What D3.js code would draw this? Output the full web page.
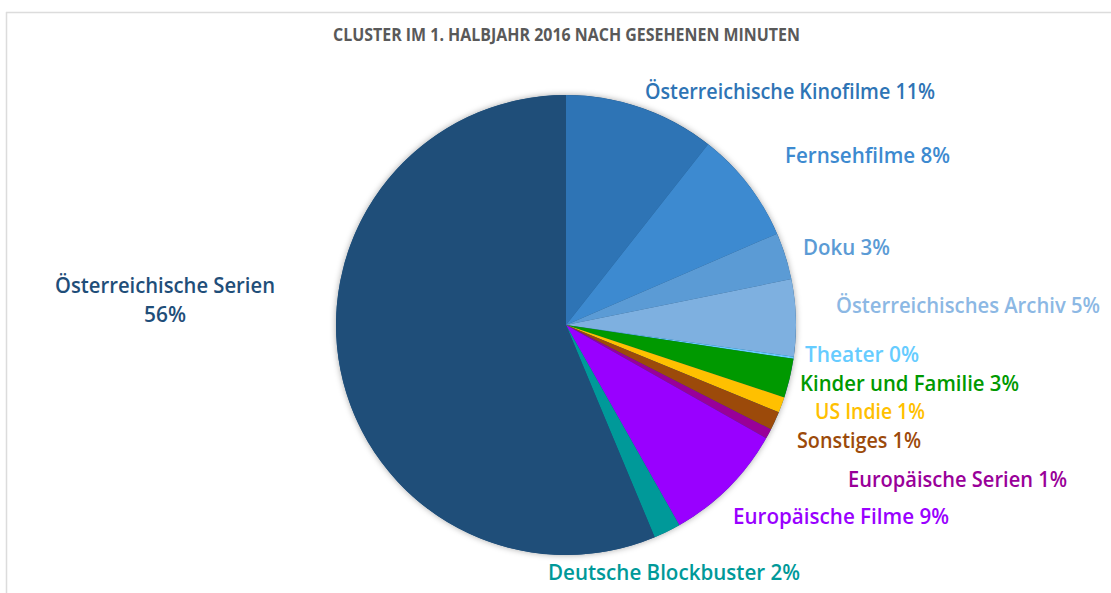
<!DOCTYPE html>
<html>
<head>
<meta charset="utf-8">
<script src="https://cdn.jsdelivr.net/npm/d3@7"></script>
<style>
  body { margin: 0; background: #fff; }
  text { font-family: "Open Sans", sans-serif; }
</style>
</head>
<body>
<div id="chart"></div>
<script>
// Werte (Anteil in %), im Uhrzeigersinn ab 12 Uhr
var categories = ["Österreichische Kinofilme", "Fernsehfilme", "Doku", "Österreichisches Archiv",
    "Theater", "Kinder und Familie", "US Indie", "Sonstiges", "Europäische Serien",
    "Europäische Filme", "Deutsche Blockbuster", "Österreichische Serien"];
var values = [10.6, 7.9, 3.3, 5.4, 0.15, 2.75, 1.1, 1.3, 0.7, 8.6, 1.9, 56.3];
var pctLabels = ["11%", "8%", "3%", "5%", "0%", "3%", "1%", "1%", "1%", "9%", "2%", "56%"];
var colors = ["#2e74b5", "#3d8ad0", "#5b9bd5", "#7eb0e0", "#66ccff", "#009900", "#ffc000",
    "#9c4a0a", "#990099", "#9900ff", "#009999", "#1f4e79"];
var labelColors = ["#2e74b5", "#3d8ad0", "#5b9bd5", "#8cb8e4", "#66ccff", "#009900", "#ffc000",
    "#9c4a0a", "#990099", "#9900ff", "#009999", "#1f4e79"];
var title = "CLUSTER IM 1. HALBJAHR 2016 NACH GESEHENEN MINUTEN";

// Label-Platzierung (links, Grundlinie, Breite) wie im Original
var labelPos = [
    { x: 645, y: 99, w: 290 },
    { x: 785, y: 163, w: 165 },
    { x: 803, y: 255, w: 87 },
    { x: 836, y: 313, w: 264 },
    { x: 805, y: 362, w: 114 },
    { x: 800, y: 391, w: 219 },
    { x: 815, y: 419, w: 110 },
    { x: 797, y: 448, w: 124 },
    { x: 848, y: 487, w: 219 },
    { x: 733, y: 524, w: 216 },
    { x: 548, y: 580, w: 252 },
    { x: 55, y: 293, w: 220 }
];

var svgWidth = 1111;
var svgHeight = 593;
var cx = 566, cy = 325, radius = 230;

var svg = d3.select("#chart")
    .append("svg")
    .attr("width", svgWidth)
    .attr("height", svgHeight);

// Rahmen oben / links
svg.append("line")
    .attr("x1", 6).attr("y1", 12.5).attr("x2", svgWidth).attr("y2", 12.5)
    .attr("stroke", "#dcdcdc").attr("stroke-width", 1.5);
svg.append("line")
    .attr("x1", 6.5).attr("y1", 12).attr("x2", 6.5).attr("y2", svgHeight)
    .attr("stroke", "#dcdcdc").attr("stroke-width", 1.5);

var defs = svg.append("defs");
var filter = defs.append("filter")
    .attr("id", "shadow")
    .attr("x", "-10%").attr("y", "-10%")
    .attr("width", "120%").attr("height", "120%");
filter.append("feDropShadow")
    .attr("dx", 0).attr("dy", 0)
    .attr("stdDeviation", 3)
    .attr("flood-color", "#000")
    .attr("flood-opacity", 0.35);

// Titel
svg.append("text")
    .attr("x", 333)
    .attr("y", 41)
    .attr("textLength", 467)
    .attr("lengthAdjust", "spacingAndGlyphs")
    .attr("font-size", 17)
    .attr("font-weight", 700)
    .attr("fill", "#595959")
    .text(title);

var data = categories.map(function (c, i) {
    return { name: c, value: values[i], pct: pctLabels[i] };
});

var pie = d3.pie()
    .sort(null)
    .value(d => d.value);

var arc = d3.arc()
    .innerRadius(0)
    .outerRadius(radius);

var chartGroup = svg.append("g")
    .attr("transform", `translate(${cx}, ${cy})`);

chartGroup.append("circle")
    .attr("r", radius)
    .attr("fill", colors[11])
    .attr("filter", "url(#shadow)");

chartGroup.selectAll("path")
    .data(pie(data))
    .enter()
    .append("path")
    .attr("d", arc)
    .attr("fill", (d, i) => colors[i]);

// Beschriftungen
var labels = svg.selectAll(".slice-label")
    .data(data)
    .enter()
    .append("text")
    .attr("class", "slice-label")
    .attr("font-size", 22)
    .attr("font-weight", 600)
    .attr("fill", (d, i) => labelColors[i]);

labels.each(function (d, i) {
    var t = d3.select(this);
    var p = labelPos[i];
    if (i === 11) {
        t.append("tspan")
            .attr("x", p.x)
            .attr("y", p.y)
            .attr("textLength", p.w)
            .attr("lengthAdjust", "spacingAndGlyphs")
            .text(d.name);
        t.append("tspan")
            .attr("x", p.x + p.w / 2)
            .attr("y", p.y + 29)
            .attr("text-anchor", "middle")
            .attr("textLength", 42)
            .attr("lengthAdjust", "spacingAndGlyphs")
            .text(d.pct);
    } else {
        t.attr("x", p.x)
            .attr("y", p.y)
            .attr("textLength", p.w)
            .attr("lengthAdjust", "spacingAndGlyphs")
            .text(d.name + " " + d.pct);
    }
});
</script>
</body>
</html>
